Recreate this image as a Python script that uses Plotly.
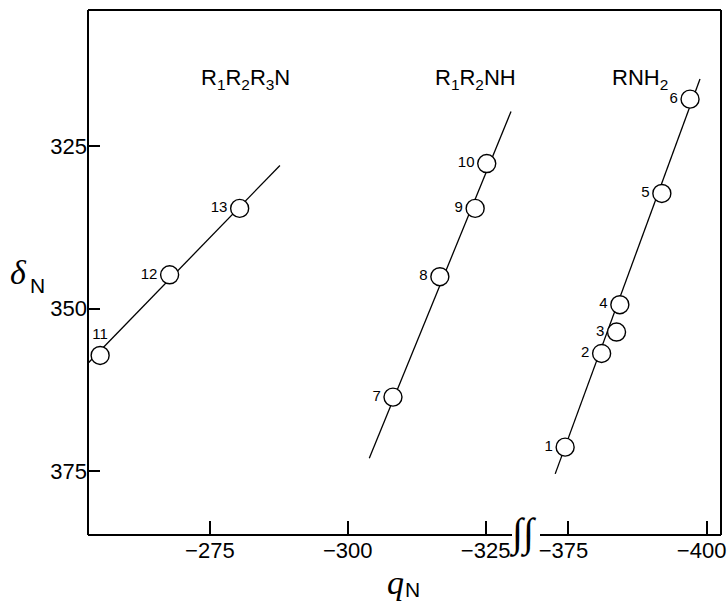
import plotly.graph_objects as go

# ---- data ----
prim_ids = ["1", "2", "3", "4", "5", "6"]
prim_q = [-374.4, -381.0, -383.7, -384.3, -391.9, -397.0]
prim_d = [371.3, 356.9, 353.6, 349.4, 332.3, 317.8]

sec_ids = ["7", "8", "9", "10"]
sec_q = [-308.2, -316.7, -323.1, -325.2]
sec_d = [363.6, 345.1, 334.6, 327.7]

tert_ids = ["11", "12", "13"]
tert_q = [-255.1, -267.7, -280.4]
tert_d = [357.2, 344.8, 334.6]

# fitted straight lines (end points)
fit_tert_q = [-252.9, -287.7]
fit_tert_d = [358.4, 328.0]
fit_sec_q = [-303.9, -329.6]
fit_sec_d = [373.0, 319.7]
fit_prim_q = [-372.6, -398.8]
fit_prim_d = [375.4, 314.7]

left_ticks = [-275, -300, -325]
right_ticks = [-375, -400]
y_ticks = [325, 350, 375]

group_labels = ["R<sub>1</sub>R<sub>2</sub>R<sub>3</sub>N", "R<sub>1</sub>R<sub>2</sub>NH", "RNH<sub>2</sub>"]

# ---- figure ----
SANS = "Liberation Sans, Arial, sans-serif"
NARROW = "Liberation Sans Narrow, Arial Narrow, Liberation Sans, sans-serif"
SERIF = "Liberation Serif, Times New Roman, serif"

fig = go.Figure()

line_style = dict(color="black", width=1.3)
marker_style = dict(symbol="circle", size=18, color="white",
                    line=dict(color="black", width=1.4))
label_font = dict(family=NARROW, size=15, color="black")

# fit lines
fig.add_trace(go.Scatter(x=fit_tert_q, y=fit_tert_d, mode="lines", line=line_style,
                         xaxis="x", yaxis="y", showlegend=False, hoverinfo="skip"))
fig.add_trace(go.Scatter(x=fit_sec_q, y=fit_sec_d, mode="lines", line=line_style,
                         xaxis="x", yaxis="y", showlegend=False, hoverinfo="skip"))
fig.add_trace(go.Scatter(x=fit_prim_q, y=fit_prim_d, mode="lines", line=line_style,
                         xaxis="x2", yaxis="y", showlegend=False, hoverinfo="skip"))

# points
fig.add_trace(go.Scatter(x=tert_q, y=tert_d, mode="markers+text", text=tert_ids,
                         textposition=["top center", "middle left", "middle left"],
                         textfont=label_font, marker=marker_style,
                         xaxis="x", yaxis="y", showlegend=False, cliponaxis=False))
fig.add_trace(go.Scatter(x=sec_q, y=sec_d, mode="markers+text", text=sec_ids,
                         textposition="middle left", textfont=label_font,
                         marker=marker_style, xaxis="x", yaxis="y", showlegend=False))
fig.add_trace(go.Scatter(x=prim_q, y=prim_d, mode="markers+text", text=prim_ids,
                         textposition="middle left", textfont=label_font,
                         marker=marker_style, xaxis="x2", yaxis="y", showlegend=False,
                         cliponaxis=False))

L, R, T, B = 88, 6, 10, 66
W, H = 727, 601
pw, ph = W - L - R, H - T - B


def px(xp):
    return (xp - L) / pw


def py(yp):
    return (H - B - yp) / ph


split = px(527)

axis_common = dict(showgrid=False, zeroline=False, showline=False, automargin=False,
                   ticks="inside", ticklen=14, tickwidth=1.5, tickcolor="black",
                   ticklabeloverflow="allow",
                   tickfont=dict(family=SANS, size=22, color="black"))

fig.update_layout(
    width=W, height=H,
    margin=dict(l=L, r=R, t=T, b=B, autoexpand=False),
    paper_bgcolor="white", plot_bgcolor="white",
    xaxis=dict(domain=[0, split], range=[-252.9, -332.5], tickvals=left_ticks,
               anchor="y", **axis_common),
    xaxis2=dict(domain=[split, 1], range=[-367.5, -402.6], tickvals=right_ticks,
                anchor="y", ticklabelshift=5, **axis_common),
    yaxis=dict(range=[384.8, 304.1], tickvals=y_ticks, anchor="x",
               **{**axis_common, "ticklen": 12}),
)

# frame with a gap for the axis break
frame = dict(type="line", xref="paper", yref="paper", line=dict(color="black", width=2))
fig.add_shape(x0=0, x1=1, y0=1, y1=1, **frame)
fig.add_shape(x0=0, x1=0, y0=0, y1=1, **frame)
fig.add_shape(x0=1, x1=1, y0=0, y1=1, **frame)
fig.add_shape(x0=0, x1=px(512), y0=0, y1=0, **frame)
fig.add_shape(x0=px(540), x1=1, y0=0, y1=0, **frame)

# break symbol
fig.add_annotation(x=px(523), y=py(533), xref="paper", yref="paper", text="∫∫",
                   showarrow=False, xanchor="center", yanchor="middle",
                   font=dict(family=SERIF, size=40, color="black"))

# group labels
for lab, cx in zip(group_labels, [245, 475, 640]):
    fig.add_annotation(x=px(cx), y=py(79), xref="paper", yref="paper", text=lab,
                       showarrow=False, xanchor="center", yanchor="middle",
                       font=dict(family=SANS, size=22, color="black"))

# axis titles
fig.add_annotation(x=px(18), y=py(272), xref="paper", yref="paper", text="<i>δ</i>",
                   showarrow=False, xanchor="center", yanchor="middle",
                   font=dict(family=SERIF, size=34, color="black"))
fig.add_annotation(x=px(37), y=py(285), xref="paper", yref="paper", text="N",
                   showarrow=False, xanchor="center", yanchor="middle",
                   font=dict(family=SANS, size=21, color="black"))
fig.add_annotation(x=px(395), y=py(582), xref="paper", yref="paper", text="<i>q</i>",
                   showarrow=False, xanchor="center", yanchor="middle",
                   font=dict(family=SERIF, size=34, color="black"))
fig.add_annotation(x=px(412), y=py(589), xref="paper", yref="paper", text="N",
                   showarrow=False, xanchor="center", yanchor="middle",
                   font=dict(family=SANS, size=21, color="black"))

fig.write_html("out.html")
